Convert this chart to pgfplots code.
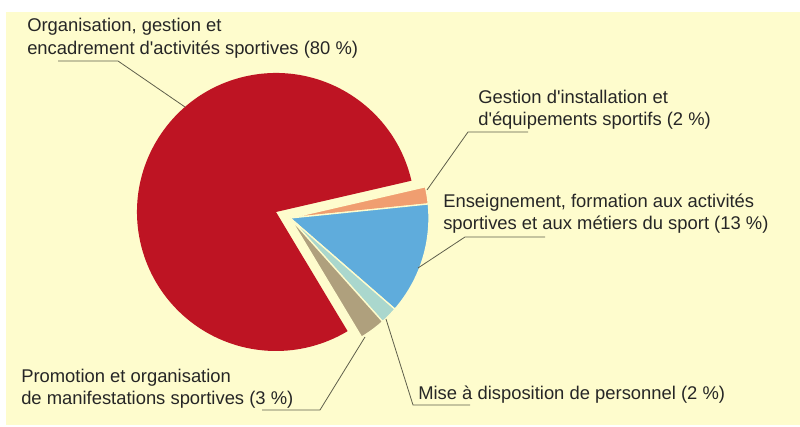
\documentclass[border=0pt]{standalone}
\usepackage{pgfplots}
\pgfplotsset{compat=1.18}
\usepackage{fontspec}
\setmainfont{Liberation Sans}
\definecolor{bgc}{RGB}{254,252,205}
\definecolor{cred}{RGB}{190,20,35}
\definecolor{corange}{RGB}{240,158,112}
\definecolor{cblue}{RGB}{95,172,220}
\definecolor{cteal}{RGB}{170,215,205}
\definecolor{ctan}{RGB}{175,160,125}
\definecolor{cline}{RGB}{95,95,75}
\begin{document}
\begin{tikzpicture}
\begin{axis}[
  scale only axis, width=600pt, height=320.25pt,
  xmin=0, xmax=800, ymin=-427, ymax=0,
  hide axis, clip=false,
]
% full frame (keeps the picture 800 x 427 units)
\path[fill=white] (axis cs:0,0) rectangle (axis cs:800,-427);
% background
\fill[bgc] (axis cs:6,-12) rectangle (axis cs:800,-425);
% pie: 80, 2, 13, 2, 3 percent (1 % = 3.6 deg)
% red slice 80 %, center (276,-212), r=139px (=104.25pt)
\fill[cred] (axis cs:276,-212) -- ++(13:104.25pt) arc[start angle=13, delta angle=80*3.6, radius=104.25pt] -- cycle;
% exploded small slices, center (290,-218)
\filldraw[fill=corange, draw=bgc, line width=1pt] (axis cs:290,-218) -- ++(13:104.25pt) arc[start angle=13, delta angle=-2*3.6, radius=104.25pt] -- cycle;
\filldraw[fill=cblue, draw=bgc, line width=1pt] (axis cs:290,-218) -- ++(5.8:104.25pt) arc[start angle=5.8, delta angle=-13*3.6, radius=104.25pt] -- cycle;
\filldraw[fill=cteal, draw=bgc, line width=1pt] (axis cs:290,-218) -- ++(-41:104.25pt) arc[start angle=-41, delta angle=-2*3.6, radius=104.25pt] -- cycle;
\filldraw[fill=ctan, draw=bgc, line width=1pt] (axis cs:290,-218) -- ++(-48.2:104.25pt) arc[start angle=-48.2, delta angle=-3*3.6, radius=104.25pt] -- cycle;
% leader lines
\draw[cline, line width=0.6pt] (axis cs:58,-61) -- (axis cs:118,-61) -- (axis cs:185,-107);
\draw[cline, line width=0.6pt] (axis cs:528,-132) -- (axis cs:468,-132) -- (axis cs:427,-190);
\draw[cline, line width=0.6pt] (axis cs:545,-237) -- (axis cs:465,-237) -- (axis cs:418,-268);
\draw[cline, line width=0.6pt] (axis cs:262,-410) -- (axis cs:320,-410) -- (axis cs:365,-337);
\draw[cline, line width=0.6pt] (axis cs:386,-319) -- (axis cs:413,-405) -- (axis cs:470,-405);
% labels
\tikzset{lab/.style={anchor=base west, inner sep=0pt, font=\fontsize{13.8}{16.5}\selectfont, text=black!85}}
\node[lab] at (axis cs:27,-32) {Organisation, gestion et};
\node[lab] at (axis cs:27,-55) {encadrement d\textquotesingle activités sportives (80~\%)};
\node[lab] at (axis cs:478,-104) {Gestion d\textquotesingle installation et};
\node[lab] at (axis cs:478,-126) {d\textquotesingle équipements sportifs (2~\%)};
\node[lab] at (axis cs:443,-208) {Enseignement, formation aux activités};
\node[lab] at (axis cs:443,-230) {sportives et aux métiers du sport (13~\%)};
\node[lab] at (axis cs:21,-383) {Promotion et organisation};
\node[lab] at (axis cs:21,-405) {de manifestations sportives (3~\%)};
\node[lab] at (axis cs:418,-400) {Mise à disposition de personnel (2~\%)};
\end{axis}
\end{tikzpicture}
\end{document}
